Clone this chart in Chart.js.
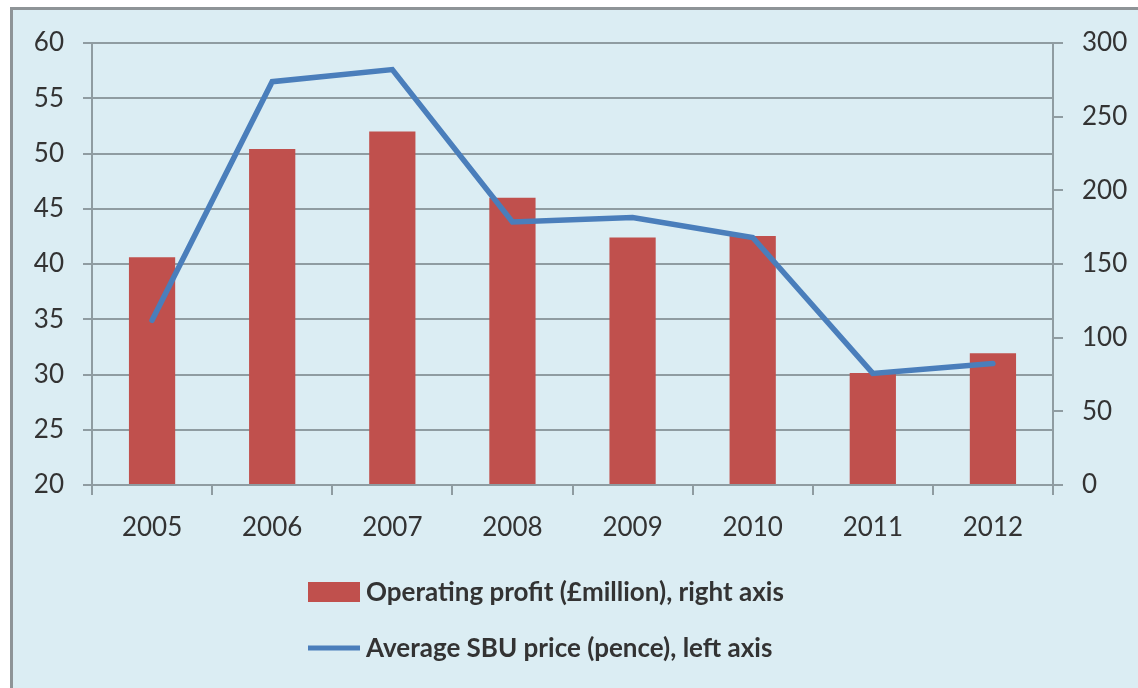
<!DOCTYPE html>
<html>
<head>
<meta charset="utf-8">
<script src="https://cdn.jsdelivr.net/npm/chart.js@4.4.1/dist/chart.umd.min.js"></script>
<style>
    html, body { margin: 0; padding: 0; background: #fff; }
    body { width: 1138px; height: 688px; position: relative; overflow: hidden; }
    .panel {
        position: absolute; left: 10px; top: 7px; width: 1200px; height: 700px;
        background: #dbedf3; border-left: 3px solid #8e9497; border-top: 3px solid #8e9497;
    }
    #chartWrap { position: absolute; left: 0; top: 0; width: 1138px; height: 688px; }
</style>
</head>
<body>
<div class="panel"></div>
<div id="chartWrap"><canvas id="myChart" width="1138" height="688"></canvas></div>
<script>
// Years on the category axis
const years = ['2005', '2006', '2007', '2008', '2009', '2010', '2011', '2012'];
// Operating profit (£million), right axis
const operatingProfit = [154.5, 228, 240, 195, 168, 169, 76, 89.5];
// Average SBU price (pence), left axis
const sbuPrice = [34.9, 56.5, 57.6, 43.8, 44.2, 42.4, 30.1, 31.0];

const gridGrey = '#8f9ca1';
const textGrey = '#333333';
const tickFont = { family: 'Lato', size: 26 };

// Legend drawn as two stacked rows under the x axis
const stackedLegend = {
    id: 'stackedLegend',
    afterDraw(chart) {
        const ctx = chart.ctx;
        const rows = [592, 648];
        ctx.save();
        ctx.font = 'bold 26px Lato';
        ctx.textBaseline = 'middle';
        chart.data.datasets.forEach((ds, i) => {
            const y = rows[i];
            if (ds.type === 'line') {
                ctx.strokeStyle = ds.borderColor;
                ctx.lineWidth = 5;
                ctx.beginPath();
                ctx.moveTo(308, y);
                ctx.lineTo(360, y);
                ctx.stroke();
            } else {
                ctx.fillStyle = ds.backgroundColor;
                ctx.fillRect(308, y - 10, 52, 20);
            }
            ctx.fillStyle = textGrey;
            ctx.fillText(ds.label, 366, y + 1);
        });
        ctx.restore();
    }
};

const config = {
    data: {
        labels: years,
        datasets: [
            {
                type: 'bar',
                label: 'Operating profit (£million), right axis',
                data: operatingProfit,
                yAxisID: 'y1',
                backgroundColor: '#c0504d',
                categoryPercentage: 1.0,
                barPercentage: 0.385,
                order: 1
            },
            {
                type: 'line',
                label: 'Average SBU price (pence), left axis',
                data: sbuPrice,
                yAxisID: 'y',
                borderColor: '#4a7ebb',
                borderWidth: 5.5,
                borderCapStyle: 'round',
                pointRadius: 0,
                tension: 0,
                fill: false,
                order: 0
            }
        ]
    },
    options: {
        responsive: false,
        animation: false,
        layout: { padding: { top: 43, left: 0, right: 0, bottom: 0 } },
        plugins: {
            legend: { display: false },
            tooltip: { enabled: false }
        },
        scales: {
            x: {
                offset: true,
                grid: {
                    offset: true,
                    drawOnChartArea: false,
                    drawTicks: true,
                    tickLength: 10,
                    color: gridGrey,
                    lineWidth: 2
                },
                border: { color: gridGrey, width: 2 },
                ticks: { color: textGrey, font: tickFont, padding: 17, maxRotation: 0 },
                afterFit: (scale) => { scale.height = 688 - 485; }
            },
            y: {
                position: 'left',
                min: 20,
                max: 60,
                grid: { color: gridGrey, lineWidth: 2, tickLength: 9 },
                border: { color: gridGrey, width: 2 },
                ticks: { stepSize: 5, color: textGrey, font: tickFont, padding: 19 },
                afterFit: (scale) => { scale.width = 92; }
            },
            y1: {
                position: 'right',
                min: 0,
                max: 300,
                grid: { drawOnChartArea: false, color: gridGrey, lineWidth: 2, tickLength: 10 },
                border: { color: gridGrey, width: 2 },
                ticks: { stepSize: 50, color: textGrey, font: tickFont, padding: 19 },
                afterFit: (scale) => { scale.width = 1138 - 1053; }
            }
        }
    },
    plugins: [stackedLegend]
};

const ctx = document.getElementById('myChart').getContext('2d');
const currentChart = new Chart(ctx, config);
</script>
</body>
</html>
